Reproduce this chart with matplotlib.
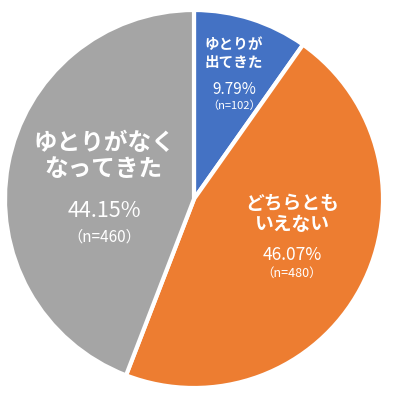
import matplotlib.pyplot as plt

plt.rcParams['font.family'] = ['Noto Sans CJK JP', 'DejaVu Sans']

# data
labels = ['ゆとりが\n出てきた', 'どちらとも\nいえない', 'ゆとりがなく\nなってきた']
percents = [9.79, 46.07, 44.15]
counts = [102, 480, 460]
colors = ['#4472C4', '#ED7D31', '#A5A5A5']

fig = plt.figure(figsize=(3.94, 4.0), dpi=100)
ax = fig.add_axes([0, 0, 1, 1])

# pie drawn in pixel-like units (y flipped, so counterclock=True runs clockwise on screen)
ax.pie(percents, colors=colors, startangle=-90, counterclock=True,
       center=(194, 199), radius=189,
       wedgeprops=dict(edgecolor='white', linewidth=3))
ax.set_xlim(0, 394)
ax.set_ylim(400, 0)
ax.set_aspect('equal')
ax.axis('off')

# label layout: (x, title y, pct y, n y, title size, pct size, n size)
layout = [
    (234, 53, 89, 106, 10.5, 11, 8),
    (292, 214, 255, 273, 13.5, 12.5, 9),
    (104, 156, 211, 237, 17, 15.5, 11),
]

for lab, p, n, (x, yt, yp, yn, st, sp, sn) in zip(labels, percents, counts, layout):
    ax.text(x, yt, lab, ha='center', va='center', color='white',
            fontsize=st, fontweight='bold', linespacing=1.15)
    ax.text(x, yp, f'{p:.2f}%', ha='center', va='center', color='white', fontsize=sp)
    ax.text(x, yn, f'（n={n}）', ha='center', va='center', color='white', fontsize=sn)

fig.savefig('out.png', dpi=100)
